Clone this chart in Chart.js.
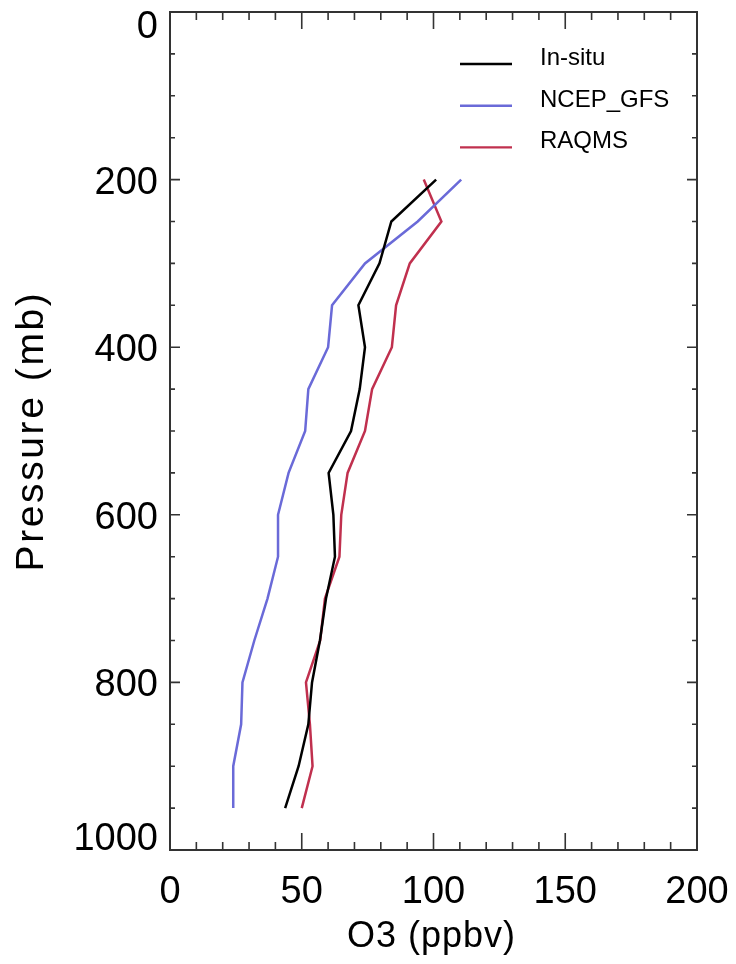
<!DOCTYPE html>
<html>
<head>
<meta charset="utf-8">
<script src="https://cdn.jsdelivr.net/npm/chart.js@4.4.1/dist/chart.umd.min.js"></script>
<style>
  body { margin: 0; background: #fff; }
  #wrap { width: 736px; height: 964px; }
</style>
</head>
<body>
<div id="wrap"><canvas id="o3Chart" width="736" height="964"></canvas></div>
<script>
// Pressure levels (mb) and ozone profiles (ppbv)
const pressure = [200, 250, 300, 350, 400, 450, 500, 550, 600, 650, 700, 750, 800, 850, 900, 950];
const insitu = [101, 84, 79.5, 71.5, 74, 72, 68.7, 60.2, 62, 62.6, 59.2, 56.9, 53.9, 52.5, 48.8, 43.7];
const ncepGfs = [110.5, 94, 74, 61.5, 60, 52.5, 51.3, 45, 41, 41, 37, 32, 27.5, 27, 24, 24];
const raqms = [96.3, 103, 91, 85.8, 84.2, 76.7, 74, 67.4, 65, 64.3, 58.8, 57, 51.6, 53.1, 54.1, 50];

const seriesNames = ['In-situ', 'NCEP_GFS', 'RAQMS'];
const xTickLabels = [0, 50, 100, 150, 200];
const yTickLabels = [0, 200, 400, 600, 800, 1000];

const FONT = '"Liberation Sans", Arial, Helvetica, sans-serif';

function toPoints(values) {
    return values.map((v, i) => ({ x: v, y: pressure[i] }));
}

// IDL-style frame: inward ticks on all four sides, labels, titles, legend
const framePlugin = {
    id: 'idlFrame',
    afterDraw(chart) {
        const ctx = chart.ctx;
        const area = chart.chartArea;
        const xs = chart.scales.x;
        const ys = chart.scales.y;
        ctx.save();

        // box
        ctx.strokeStyle = '#333';
        ctx.lineWidth = 2;
        ctx.strokeRect(area.left, area.top, area.right - area.left, area.bottom - area.top);

        // x ticks (every 10, major every 50)
        ctx.lineWidth = 1.6;
        for (let v = 0; v <= 200; v += 10) {
            const px = xs.getPixelForValue(v);
            const len = v % 50 === 0 ? 17 : 8;
            ctx.beginPath();
            ctx.moveTo(px, area.bottom); ctx.lineTo(px, area.bottom - len);
            ctx.moveTo(px, area.top); ctx.lineTo(px, area.top + len);
            ctx.stroke();
        }
        // y ticks (every 50, major every 200)
        for (let v = 0; v <= 1000; v += 50) {
            const py = ys.getPixelForValue(v);
            const len = v % 200 === 0 ? 10 : 5;
            ctx.beginPath();
            ctx.moveTo(area.left, py); ctx.lineTo(area.left + len, py);
            ctx.moveTo(area.right, py); ctx.lineTo(area.right - len, py);
            ctx.stroke();
        }

        // tick labels
        ctx.fillStyle = '#000';
        ctx.font = '38px ' + FONT;
        ctx.textBaseline = 'alphabetic';
        ctx.textAlign = 'center';
        xTickLabels.forEach(v => {
            ctx.fillText(String(v), xs.getPixelForValue(v), 903);
        });
        ctx.textAlign = 'right';
        yTickLabels.forEach(v => {
            let py = ys.getPixelForValue(v);
            py = Math.min(Math.max(py, area.top + 12), area.bottom - 14);
            ctx.fillText(String(v), area.left - 12, py + 14);
        });

        // axis titles
        ctx.textAlign = 'center';
        ctx.font = '36px ' + FONT;
        ctx.letterSpacing = '1px';
        ctx.fillText('O3 (ppbv)', (area.left + area.right) / 2 - 2, 947);
        ctx.save();
        ctx.translate(43, (area.top + area.bottom) / 2);
        ctx.rotate(-Math.PI / 2);
        ctx.font = '39px ' + FONT;
        ctx.letterSpacing = '2.6px';
        ctx.fillText('Pressure (mb)', 0, 0);
        ctx.restore();
        ctx.letterSpacing = '0px';

        // legend
        ctx.font = '24px ' + FONT;
        ctx.textAlign = 'left';
        chart.data.datasets.forEach((ds, i) => {
            const ly = 64 + i * 41.7;
            ctx.strokeStyle = ds.borderColor;
            ctx.lineWidth = 2.4;
            ctx.beginPath();
            ctx.moveTo(460, ly); ctx.lineTo(512, ly);
            ctx.stroke();
            ctx.fillStyle = '#000';
            ctx.fillText(ds.label, 540, ly + 1);
        });
        ctx.restore();
    }
};

const ctx = document.getElementById('o3Chart').getContext('2d');
const o3Chart = new Chart(ctx, {
    type: 'line',
    data: {
        datasets: [
            { label: seriesNames[0], data: toPoints(insitu), borderColor: '#000000' },
            { label: seriesNames[1], data: toPoints(ncepGfs), borderColor: '#6a6ad8' },
            { label: seriesNames[2], data: toPoints(raqms), borderColor: '#c0304e' }
        ]
    },
    options: {
        responsive: false,
        animation: false,
        layout: { padding: { left: 170, top: 12, right: 39, bottom: 114 } },
        elements: {
            line: { borderWidth: 2.5, tension: 0, fill: false },
            point: { radius: 0 }
        },
        scales: {
            x: { type: 'linear', min: 0, max: 200, display: false },
            y: { type: 'linear', min: 0, max: 1000, reverse: true, display: false }
        },
        plugins: {
            legend: { display: false },
            tooltip: { enabled: false }
        }
    },
    plugins: [framePlugin]
});
</script>
</body>
</html>
